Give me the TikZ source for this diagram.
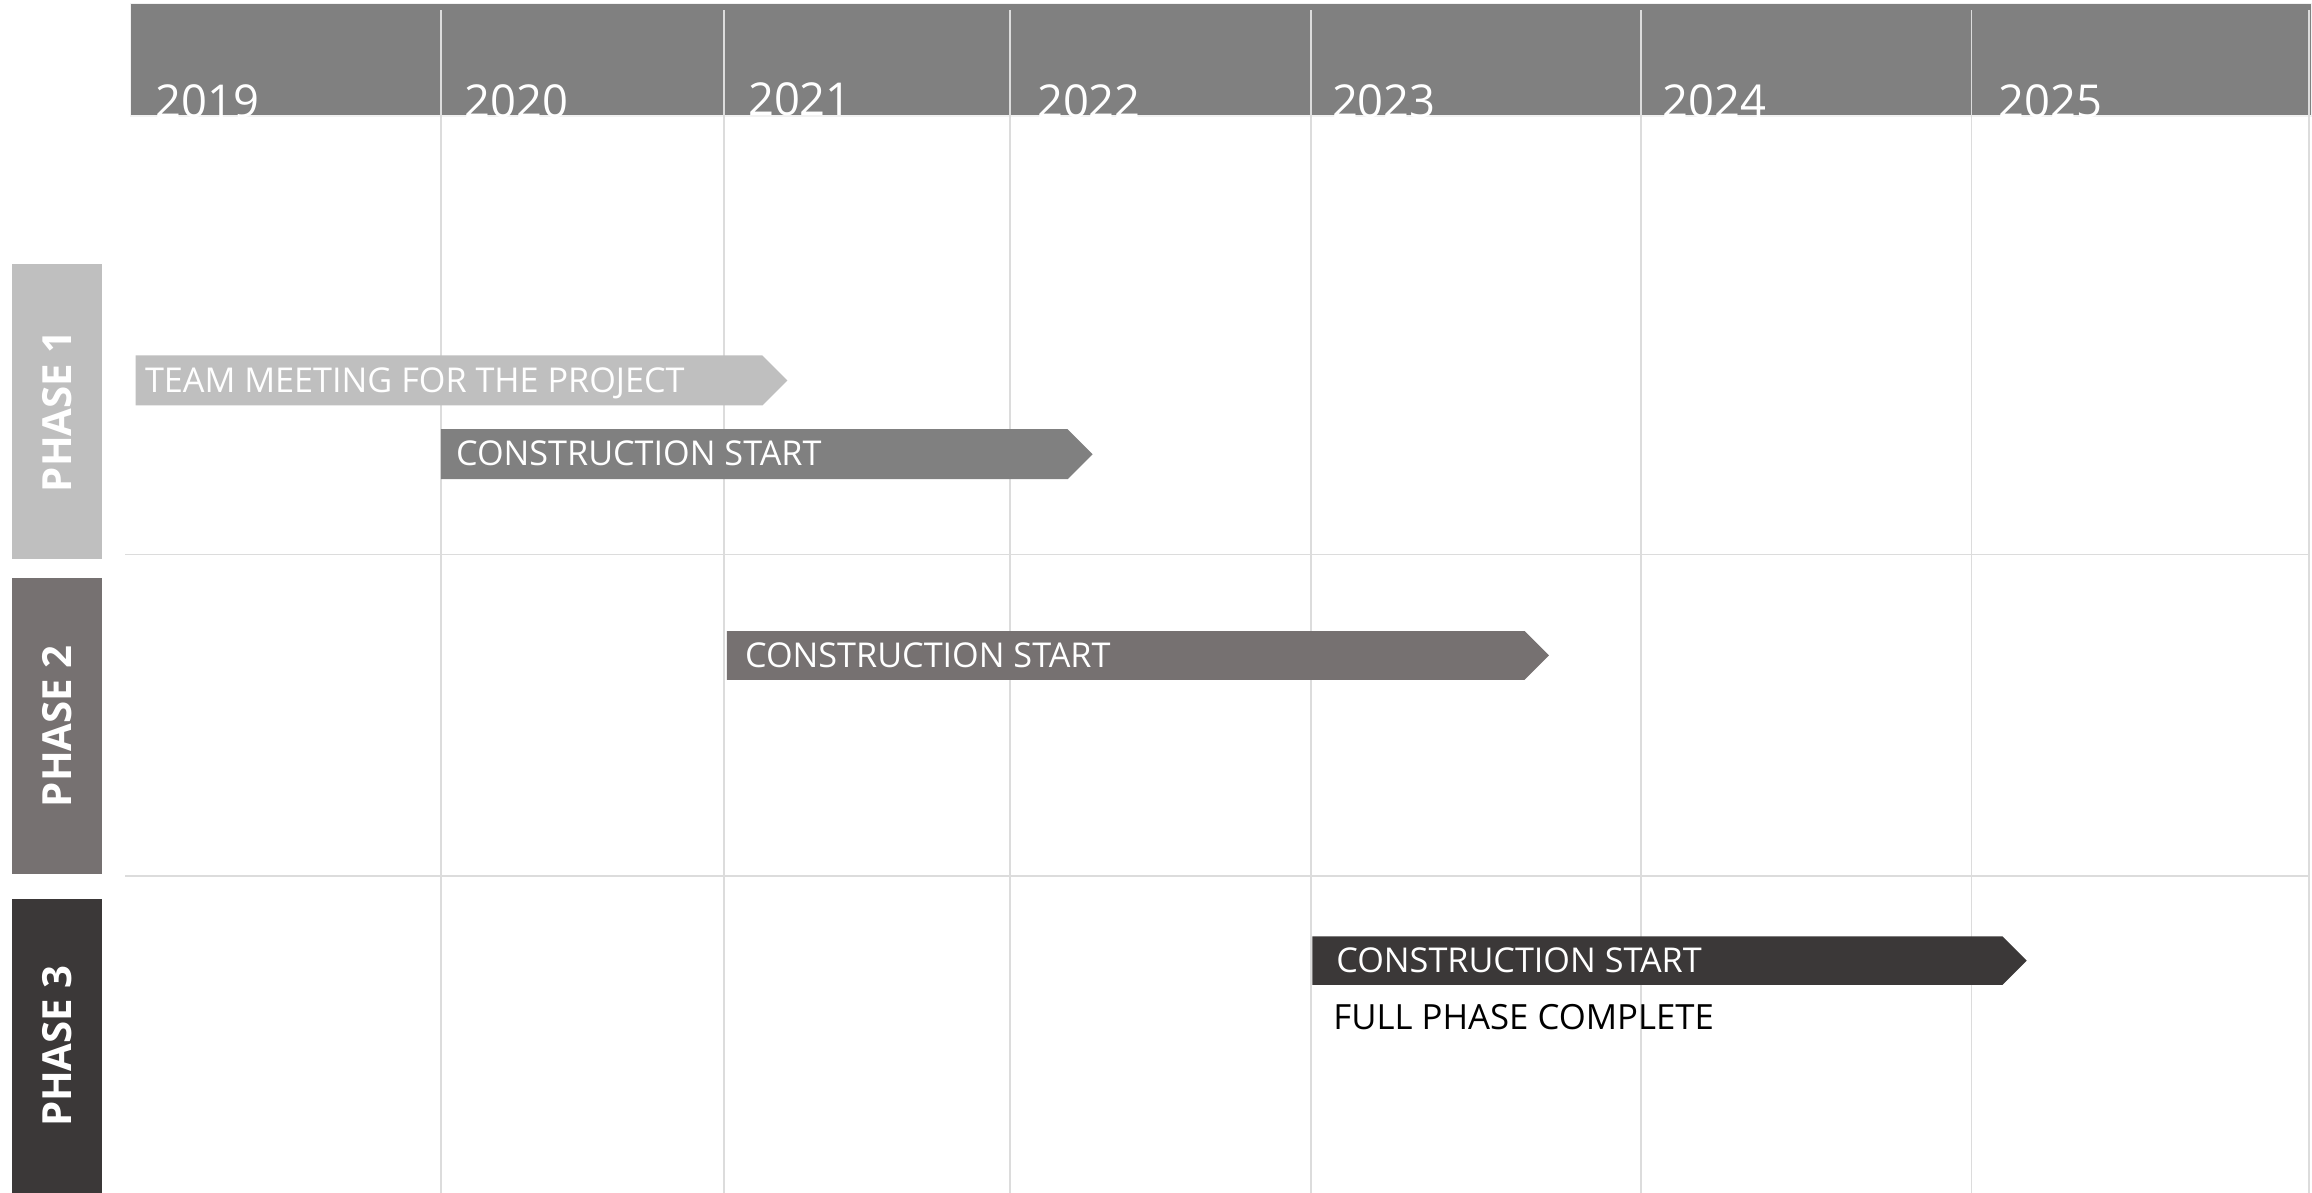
\documentclass[tikz,border=0pt]{standalone}
\usepackage{fontspec}
\setmainfont{Open Sans}
\usetikzlibrary{calc}
\definecolor{hdrgray}{HTML}{808080}
\definecolor{phaseone}{HTML}{BFBFBF}
\definecolor{phasetwo}{HTML}{767171}
\definecolor{phasethree}{HTML}{3B3838}
\definecolor{gridgray}{HTML}{DCDCDC}

\begin{document}
\begin{tikzpicture}[x=0.02cm,y=-0.02cm,
    year/.style={anchor=base west,inner sep=0pt,text=white,font=\fontsize{17.5}{20}\selectfont},
    phaselabel/.style={rotate=90,inner sep=0pt,text=white,font=\fontsize{15.5}{18}\selectfont\bfseries},
    bartext/.style={anchor=base west,inner sep=0pt,text=white,font=\fontsize{13.2}{15}\selectfont}]
    \useasboundingbox (0,0) rectangle (1568,809);
    % header band
    \draw[gray!10,line width=1.2] (89,3) rectangle (1567,78);
    \fill[hdrgray] (89,3) rectangle (1567,78);
    % grid
    \foreach \x in {299,491,685,889,1113,1337,1566}{
        \draw[gridgray,line width=0.7] (\x,7)--(\x,809);
    }
    \foreach \y in {376,594}{
        \draw[gridgray,line width=0.7] (85,\y)--(1566,\y);
    }
    % years
    \foreach \x/\yb/\yr in {105/80/2019,315/80/2020,507/78/2021,703/80/2022,903/80/2023,1127/80/2024,1355/80/2025}{
        \node[year] (y\yr) at (\x,\yb) {\yr};
    }
    % phases
    \foreach \t/\b/\col/\n in {179/379/phaseone/1,392/593/phasetwo/2,610/809/phasethree/3}{
        \fill[\col] (8,\t) rectangle (69,\b);
        \node[phaselabel] (phase\n) at (38.5,{(\t+\b)/2}) {PHASE \n};
    }
    % bars
    \foreach \xa/\xb/\yc/\hh/\col/\xt/\nm/\txt in {
        92/517/258/17/phaseone/98/meet/TEAM MEETING FOR THE PROJECT,
        299/724/308/17/hdrgray/309/consta/CONSTRUCTION START,
        493/1034/444.5/16.5/phasetwo/505/constb/CONSTRUCTION START,
        890/1358/651.5/16.5/phasethree/906/constc/CONSTRUCTION START}{
        \fill[\col] (\xa,\yc-\hh)--(\xb,\yc-\hh)--(\xb+\hh,\yc)--(\xb,\yc+\hh)--(\xa,\yc+\hh)--cycle;
        \node[bartext] (\nm) at (\xt,\yc+8) {\txt};
    }
    \node[bartext,text=black,font=\fontsize{13.4}{15}\selectfont] (full) at (904,698) {FULL PHASE COMPLETE};
\end{tikzpicture}
\end{document}
